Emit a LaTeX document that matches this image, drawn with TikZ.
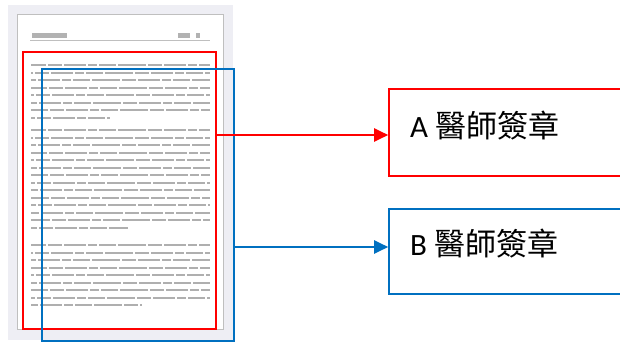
\documentclass[tikz,border=0pt]{standalone}
\usepackage{fontspec}
\setmainfont{Carlito}
\newfontfamily\cjkfont{Noto Sans CJK TC}
\usetikzlibrary{arrows.meta}
\definecolor{myred}{RGB}{255,0,0}
\definecolor{myblue}{RGB}{0,112,192}
\definecolor{pagebg}{RGB}{238,238,244}
\definecolor{txtgray}{RGB}{175,175,175}
\tikzset{
  frame/.style={draw, line width=2pt, inner sep=0pt},
  labelbox/.style={draw, line width=1.6pt, inner sep=0pt},
  txt/.style={draw=txtgray, line width=2pt, dash pattern=on 28pt off 2pt on 14pt off 2pt on 22pt off 2pt on 9pt off 2pt on 17pt off 2pt},
  arr/.style={line width=2pt, -{Triangle[length=14pt,width=13pt]}},
  lbl/.style={anchor=west, inner sep=0pt, font=\fontsize{31}{36}\selectfont}
}
\newcommand{\parlines}[3]{% start y, number of lines, end x of last line
  \foreach \i in {1,...,#2}{
    \pgfmathsetmacro{\yy}{#1+(\i-1)*7.5}
    \pgfmathsetmacro{\ph}{mod(\i*13,40)}
    \ifnum\i=#2
      \draw[txt, dash phase=\ph pt] (31,\yy) -- (#3,\yy);
    \else
      \draw[txt, dash phase=\ph pt] (31,\yy) -- (210,\yy);
    \fi
  }
}
\begin{document}
\begin{tikzpicture}[x=1pt,y=-1pt]
\useasboundingbox (0,0) rectangle (620,343);
\fill[white] (0,0) rectangle (620,343);
% document thumbnail
\fill[pagebg] (8,5) rectangle (233,340);
\node[draw=gray!50, fill=white, line width=1pt, minimum width=206pt, minimum height=315pt, inner sep=0pt] (page) at (120,172) {};
% header
\fill[gray!60] (32,33) rectangle (67,38);
\fill[gray!60] (178,33) rectangle (190,38);
\fill[gray!60] (196,33) rectangle (200,38);
\draw[gray!50, line width=1.5pt] (30,40.5) -- (210,40.5);
% body lines
\parlines{65}{8}{110}
\parlines{130}{14}{128}
\parlines{245}{9}{142}
% frames
\node[frame, draw=myred, minimum width=193pt, minimum height=277pt] (redbox) at (119.5,190.5) {};
\node[frame, draw=myblue, minimum width=192pt, minimum height=272pt] (bluebox) at (138,205) {};
% label boxes
\node[labelbox, draw=myred, minimum width=240pt, minimum height=87pt] (boxA) at (509,132.5) {};
\node[labelbox, draw=myblue, minimum width=240pt, minimum height=85pt] (boxB) at (509,251.5) {};
\node[lbl] (tA) at (410,126) {A {\cjkfont 醫師簽章}};
\node[lbl] (tB) at (410,244) {B {\cjkfont 醫師簽章}};
% arrows
\draw[arr, myred] (redbox.east |- 0,135) -- (boxA.west |- 0,135);
\draw[arr, myblue] (bluebox.east |- 0,247) -- (boxB.west |- 0,247);
\end{tikzpicture}
\end{document}
